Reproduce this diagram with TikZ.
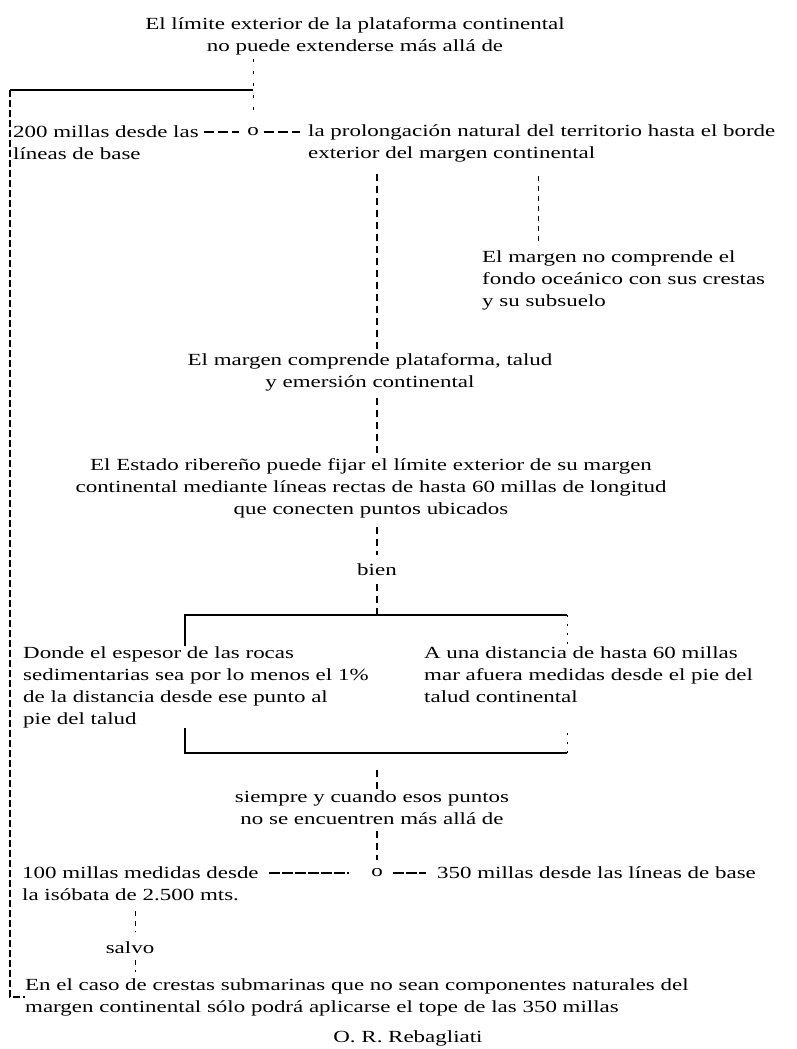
\documentclass[tikz,border=0pt]{standalone}
\usepackage{fontspec}
\setmainfont{Liberation Serif}[FakeStretch=1.35]
\usetikzlibrary{calc}
\begin{document}
\begin{tikzpicture}[x=1pt,y=-1pt,
  txt/.style={inner sep=0pt, font=\fontsize{17}{22}\selectfont},
  vdash/.style={line width=1.3pt, dash pattern=on 7pt off 5pt},
  thindash/.style={line width=0.7pt, dash pattern=on 5pt off 5pt},
  tickdash/.style={line width=1pt, dash pattern=on 2pt off 7pt},
  hdash/.style={line width=1.1pt, dash pattern=on 10pt off 4pt},
  wline/.style={line width=1.1pt, dash pattern=on 11pt off 2pt},
  longdash/.style={line width=1.2pt, dash pattern=on 7pt off 3pt},
  bracket/.style={line width=1.2pt}]
\useasboundingbox (0,0) rectangle (796,1049);
\fill[white] (0,0) rectangle (796,1049);

% axes / corners
\coordinate (ax) at (377,0);
\coordinate (sx) at (135,0);
\coordinate (J) at (253,90);
\coordinate (L1) at (10,90);
\coordinate (B1) at (377,615);
\coordinate (bl) at (185,615);
\coordinate (br) at (567,615);
\coordinate (B2) at (377,753);
\coordinate (bl2) at (185,753);
\coordinate (br2) at (567,753);
\coordinate (tx) at (538,0);

% nodes
\node[txt, align=center] (title) at (355,36) {El límite exterior de la plataforma continental\\no puede extenderse más allá de};
\node[txt] (o1) at (253,132) {o};
\node[txt, align=left, anchor=west] (n200) at (13,143) {200 millas desde las\\líneas de base};
\node[txt, align=left, anchor=west] (prolong) at (308,143) {la prolongación natural del territorio hasta el borde\\exterior del margen continental};
\node[txt, align=left, anchor=west] (nocomp) at (482,280) {El margen no comprende el\\fondo oceánico con sus crestas\\y su subsuelo};
\node[txt, align=center] (margen) at (370,372) {El margen comprende plataforma, talud\\y emersión continental};
\node[txt, align=center] (estado) at (371,488) {El Estado ribereño puede fijar el límite exterior de su margen\\continental mediante líneas rectas de hasta 60 millas de longitud\\que conecten puntos ubicados};
\node[txt] (bien) at (377,570) {bien};
\node[txt, align=left, anchor=north west] (lb) at (23,646) {Donde el espesor de las rocas\\sedimentarias sea por lo menos el 1\%\\de la distancia desde ese punto al\\pie del talud};
\node[txt, align=left, anchor=north west] (rb) at (424,646) {A una distancia de hasta 60 millas\\mar afuera medidas desde el pie del\\talud continental};
\node[txt, align=center] (siempre) at (372,808) {siempre y cuando esos puntos\\no se encuentren más allá de};
\node[txt] (o2) at (377,873) {o};
\node[txt, align=left, anchor=west] (n100) at (22,884) {100 millas medidas desde\\la isóbata de 2.500 mts.};
\node[txt, anchor=west] (n350) at (437,873) {350 millas desde las líneas de base};
\node[txt] (salvo) at (130,948) {salvo};
\node[txt, align=left, anchor=west] (enc) at (25,997) {En el caso de crestas submarinas que no sean componentes naturales del\\margen continental sólo podrá aplicarse el tope de las 350 millas};
\node[txt] (reb) at (408,1038) {O. R. Rebagliati};

% connectors
\draw[line width=0.9pt, dash pattern=on 3pt off 9pt, shorten <=4pt, shorten >=16pt] (title.south -| J) -- (o1.north);
\draw[bracket] (J) -- (L1);
\draw[longdash] (L1) -- (L1 |- enc.west) -- (enc.west);
\draw[hdash, shorten <=5pt, shorten >=8pt] (o1.west -| n200.east) -- (o1.west);
\draw[hdash, shorten <=5pt, shorten >=8pt] (o1.east) -- (o1.east -| prolong.west);

\draw[vdash, shorten <=12pt, shorten >=3pt] (prolong.south -| ax) -- (margen.north -| ax);
\draw[thindash, shorten <=14pt, shorten >=5pt] (prolong.south -| tx) -- (nocomp.north -| tx);
\draw[vdash, shorten <=7pt, shorten >=3pt] (margen.south -| ax) -- (estado.north -| ax);
\draw[vdash, shorten <=9pt, shorten >=9pt] (estado.south -| ax) -- (bien.north);
\draw[vdash, shorten <=8pt] (bien.south) -- (B1);

\draw[bracket] (bl |- lb.north) -- (bl) -- (br);
\draw[tickdash] (br) -- (br |- lb.north);
\draw[bracket] (lb.south -| bl2) -- (bl2) -- (br2);
\draw[tickdash] (br2) -- (br2 |- lb.south);

\draw[vdash, shorten <=17pt] (B2) -- (siempre.north -| ax);
\draw[vdash, shorten <=6pt, shorten >=9pt] (siempre.south -| ax) -- (o2.north);
\draw[wline, shorten <=10pt, shorten >=22pt] (o2.west -| n100.east) -- (o2.west);
\draw[wline, shorten <=10pt, shorten >=11pt] (o2.east) -- (n350.west);

\draw[thindash, line width=0.9pt, shorten <=10pt, shorten >=10pt] (n100.south -| sx) -- (salvo.north -| sx);
\draw[thindash, line width=0.9pt, shorten <=6pt, shorten >=6pt] (salvo.south -| sx) -- (enc.north -| sx);
\end{tikzpicture}
\end{document}
